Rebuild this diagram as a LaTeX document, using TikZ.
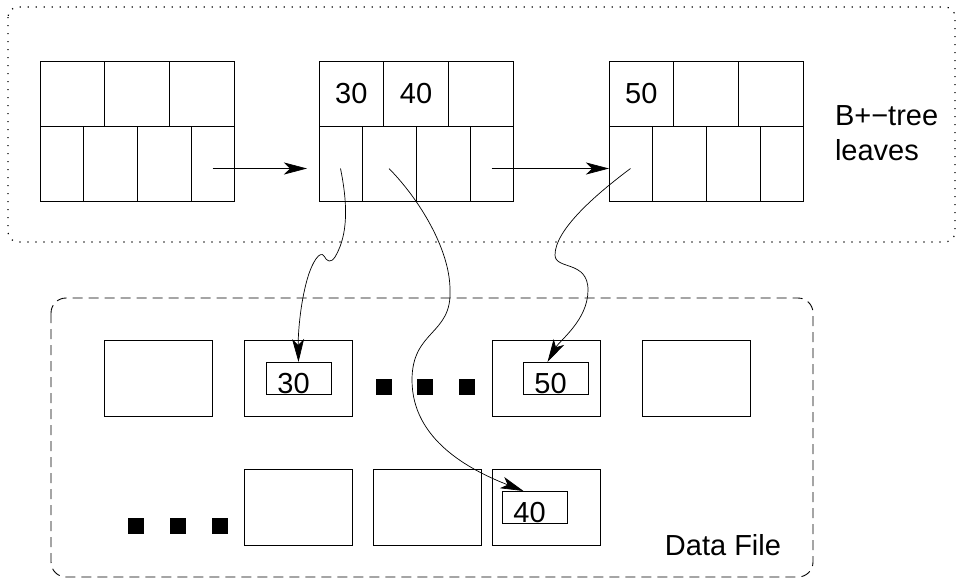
\documentclass[tikz,border=0pt]{standalone}
\usepackage{fontspec}
\setmainfont{Liberation Sans}
\usepackage{tikz}
\usetikzlibrary{arrows.meta}

\begin{document}
\begin{tikzpicture}[x=1pt, y=-1pt, line width=0.9pt,
  every node/.style={inner sep=0pt, outer sep=0pt, font=\fontsize{29}{35}\selectfont},
  cell/.style={rectangle, draw, anchor=north west, minimum height=#1},
  keycell/.style={cell=65pt, minimum width=64.7pt},
  ptrcell/.style={cell=75pt, minimum width=#1},
  block/.style={rectangle, draw, anchor=north west, minimum width=108pt, minimum height=76pt},
  rec/.style={rectangle, draw, anchor=north west, minimum width=65pt, minimum height=32pt,
    label={[xshift=-5pt, yshift=-6pt]center:#1}},
  ptr/.style={-{Stealth[length=23pt, width=12pt, inset=6pt]}, line width=0.7pt}]
  \useasboundingbox (0,0) rectangle (957,579);

  % B+-tree leaves
  \draw[line width=1.2pt, dash pattern=on 1.2pt off 6.8pt, rounded corners=10pt] (8,7) rectangle (955,242);
  \foreach \n/\x/\ka/\kb in {1/40/{}/{}, 2/319/30/40, 3/609/50/{}} {
    \node[keycell] (leaf\n-k1) at (\x,61) {\ka};
    \node[keycell] (leaf\n-k2) at (\x+64.7,61) {\kb};
    \node[keycell] (leaf\n-k3) at (\x+129.4,61) {};
    \node[ptrcell=43pt] (leaf\n-p1) at (\x,126) {};
    \node[ptrcell=54pt] (leaf\n-p2) at (\x+43,126) {};
    \node[ptrcell=54pt] (leaf\n-p3) at (\x+97,126) {};
    \node[ptrcell=43pt] (leaf\n-p4) at (\x+151,126) {};
  }
  \node[anchor=west, align=left] (treelbl) at (835,133) {B+−tree\\leaves};

  % data file
  \draw[dash pattern=on 10pt off 6pt, rounded corners=15pt] (51,298) rectangle (813,577);
  \node[block] (blk1) at (104,340) {};
  \node[block] (blk2) at (244,340) {};
  \node[block] (blk3) at (492,340) {};
  \node[block] (blk4) at (642,340) {};
  \node[block] (blk5) at (244,469) {};
  \node[block] (blk6) at (373,469) {};
  \node[block] (blk7) at (492,469) {};
  \node[rec=30] (rec30) at (266,362) {};
  \node[rec=50] (rec50) at (523,362) {};
  \node[rec=40] (rec40) at (502,491) {};
  \foreach \x in {384,425,467} \fill (\x-8,379) rectangle +(16,16);
  \foreach \x in {136,178,220} \fill (\x-8,518) rectangle +(16,16);
  \node (filelbl) at (723,545) {Data File};

  % sibling pointers
  \draw[ptr] ([yshift=-5pt]leaf1-p4.center) -- ([xshift=-12pt, yshift=-5pt]leaf2-p1.west);
  \draw[ptr] ([yshift=-5pt]leaf2-p4.center) -- ([yshift=-5pt]leaf3-p1.west);

  % record pointers
  \draw[ptr] ([yshift=-5pt]leaf2-p1.center) .. controls (350,215) and (345,240) .. (335,257)
    .. controls (331,263) and (327,262) .. (324,256)
    .. controls (320,250) and (312,262) .. (307,280)
    .. controls (300,305) and (298,335) .. (rec30.north);
  \draw[ptr] ([yshift=-5pt]leaf2-p2.center) .. controls (420,200) and (450,250) .. (450,290)
    .. controls (452,335) and (412,330) .. (412,380)
    .. controls (412,440) and (470,470) .. ([xshift=-11pt]rec40.north);
  \draw[ptr] ([yshift=-5pt]leaf3-p1.center) .. controls (595,195) and (555,230) .. (555,255)
    .. controls (555,270) and (588,260) .. (588,290)
    .. controls (588,320) and (560,340) .. ([xshift=-8pt]rec50.north);
\end{tikzpicture}
\end{document}
